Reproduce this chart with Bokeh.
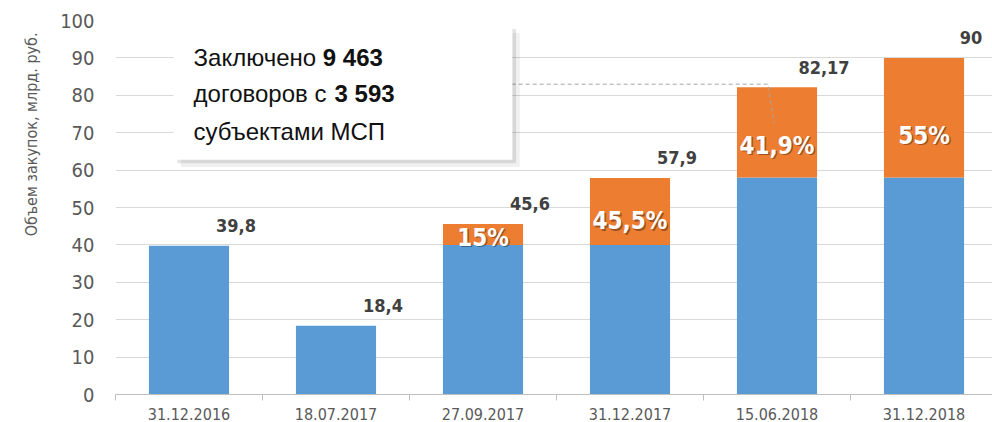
import math
from bokeh.plotting import figure
from bokeh.models import (Range1d, FixedTicker, LabelSet, Label, BoxAnnotation,
                          ColumnDataSource)
from bokeh.core.properties import value
from bokeh.embed import file_html
from bokeh.resources import INLINE

# ---- data ----
categories = ["31.12.2016", "18.07.2017", "27.09.2017", "31.12.2017", "15.06.2018", "31.12.2018"]
blue_vals = [39.8, 18.4, 40.0, 40.0, 58.0, 58.0]
orange_vals = [0.0, 0.0, 5.6, 17.9, 24.17, 32.0]
total_labels = ["39,8", "18,4", "45,6", "57,9", "82,17", "90"]
pct_labels = ["", "", "15%", "45,5%", "41,9%", "55%"]
y_ticks = [0, 10, 20, 30, 40, 50, 60, 70, 80, 90, 100]

BLUE = "#5b9bd5"
ORANGE = "#ed7d31"
NARROW = "'DejaVu Sans Condensed', Roboto, sans-serif"

xs = [i + 0.5 for i in range(len(categories))]
totals = [b + o for b, o in zip(blue_vals, orange_vals)]
pct_y = [b + 0.35 * o for b, o in zip(blue_vals, orange_vals)]

src = ColumnDataSource(dict(x=xs, blue=blue_vals, total=totals, tl=total_labels,
                            pl=pct_labels, py=pct_y))

p = figure(width=992, height=422, output_backend="svg", toolbar_location=None,
           x_range=Range1d(0, 5.966), y_range=Range1d(0, 100),
           min_border_left=115, min_border_right=0, min_border_top=20, min_border_bottom=0)
p.outline_line_color = None
p.background_fill_color = "white"
p.border_fill_color = "white"

# y-axis title drawn as a left-side title, aligned toward the top
p.title_location = "left"
p.title.text = "Объем закупок, млрд. руб."
p.title.align = "right"
p.title.vertical_align = "top"
p.title.offset = 12
p.title.standoff = 30
p.title.text_font = NARROW
p.title.text_font_size = "16px"
p.title.text_font_style = "normal"
p.title.text_color = "#595959"

p.xgrid.visible = False
p.ygrid.ticker = FixedTicker(ticks=y_ticks)
p.ygrid.grid_line_color = "#d9d9d9"
p.ygrid.grid_line_width = 1

p.yaxis.ticker = FixedTicker(ticks=y_ticks)
p.yaxis.axis_line_color = None
p.yaxis.major_tick_line_color = None
p.yaxis.minor_tick_line_color = None
p.yaxis.major_label_standoff = 15
p.yaxis.major_label_text_font = NARROW
p.yaxis.major_label_text_font_size = "20px"
p.yaxis.major_label_text_color = "#595959"

p.xaxis.ticker = FixedTicker(ticks=xs, minor_ticks=list(range(len(categories) + 1)))
p.xaxis.major_label_overrides = {x: c for x, c in zip(xs, categories)}
p.xaxis.major_tick_line_color = None
p.xaxis.major_tick_out = 0
p.xaxis.minor_tick_in = 0
p.xaxis.minor_tick_out = 6
p.xaxis.minor_tick_line_color = "#bfbfbf"
p.xaxis.axis_line_color = "#bfbfbf"
p.xaxis.major_label_standoff = 7
p.xaxis.major_label_text_font = NARROW
p.xaxis.major_label_text_font_size = "16px"
p.xaxis.major_label_text_color = "#595959"

# bars
p.vbar(x="x", bottom=0, top="blue", width=0.545, source=src, fill_color=BLUE, line_color=None)
p.vbar(x="x", bottom="blue", top="total", width=0.545, source=src, fill_color=ORANGE, line_color=None)

# callout dashed line
box_l, box_r, box_b, box_t = 0.395, 2.70, 62.8, 98.7
cy = totals[4] + 0.8
p.line([box_r - 0.1, xs[4] - 0.06, xs[4] - 0.02], [cy, cy, cy - 10.4],
       line_color="#a6a6a6", line_width=1, line_dash="4 3")

# total labels
p.add_layout(LabelSet(x="x", y="total", text="tl", source=src, x_offset=47, y_offset=20,
                      text_align="center", text_baseline="middle",
                      text_font=value(NARROW), text_font_style="bold",
                      text_font_size=value("18px"), text_color="#404040"))

# percent labels (shadow + white)
p.add_layout(LabelSet(x="x", y="py", text="pl", source=src, x_offset=1.5, y_offset=-1.5,
                      text_align="center", text_baseline="middle",
                      text_font=value(NARROW), text_font_style="bold",
                      text_font_size=value("24px"), text_color="#000000", text_alpha=0.35))
p.add_layout(LabelSet(x="x", y="py", text="pl", source=src,
                      text_align="center", text_baseline="middle",
                      text_font=value(NARROW), text_font_style="bold",
                      text_font_size=value("24px"), text_color="white"))

# info box with shadow
p.add_layout(BoxAnnotation(left=box_l + 0.05, right=box_r + 0.05, bottom=box_b - 2.0, top=box_t - 2.0,
                           fill_color="#000000", fill_alpha=0.06, line_color=None))
p.add_layout(BoxAnnotation(left=box_l + 0.025, right=box_r + 0.025, bottom=box_b - 1.0, top=box_t - 1.0,
                           fill_color="#000000", fill_alpha=0.10, line_color=None))
p.add_layout(BoxAnnotation(left=box_l, right=box_r, bottom=box_b, top=box_t,
                           fill_color="white", fill_alpha=1.0, line_color=None))

tx = 0.531
box_font = "Liberation Sans"
lines = [
    ("Заключено ", "9 463", 90.2, 1.41),
    ("договоров с ", "3 593", 80.4, 1.49),
    ("субъектами МСП", "", 70.3, None),
]
for reg, bold, yy, bx in lines:
    p.add_layout(Label(x=tx, y=yy, text=reg, text_font=box_font, text_font_size="24px",
                       text_color="#111111", text_baseline="alphabetic", text_align="left"))
    if bold:
        p.add_layout(Label(x=bx, y=yy, text=bold, text_font=box_font, text_font_size="24px",
                           text_font_style="bold", text_color="#111111",
                           text_baseline="alphabetic", text_align="left"))

open("out.html", "w").write(file_html(p, INLINE))
